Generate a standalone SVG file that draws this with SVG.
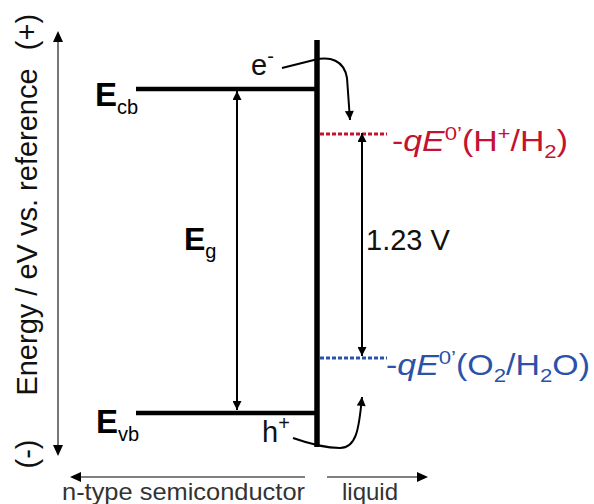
<svg xmlns="http://www.w3.org/2000/svg" width="594" height="504" viewBox="0 0 594 504">
<style>
text{font-family:"Liberation Sans",Arial,sans-serif;}
.lab{font-size:29px;fill:#111;}
.bold{font-weight:bold;fill:#000;}
.red{fill:#c4122f;}
.blue{fill:#2a52a8;}
.axis{stroke:#555;stroke-width:1.6;fill:none;}
.band{stroke:#000;stroke-width:4.5;fill:none;}
.arr{stroke:#000;stroke-width:2;fill:none;}
.gray{fill:#333;font-size:24px;}
</style>
<defs>
<marker id="ah" viewBox="0 0 10 10" refX="10" refY="5" markerWidth="10" markerHeight="9" markerUnits="userSpaceOnUse" orient="auto-start-reverse">
<path d="M0,0 L10,5 L0,10 z" fill="#000"/>
</marker>
</defs>
<g id="axis-y">
<line class="axis" x1="58" y1="448" x2="58" y2="40"/>
<path d="M58,31 L53,42 L63,42 z" fill="#000"/>
<path d="M58,456 L53,445 L63,445 z" fill="#000"/>
<text class="lab" transform="translate(37,232) rotate(-90)" text-anchor="middle" font-size="28">Energy / eV vs. reference</text>
<text class="lab" transform="translate(37,32) rotate(-90)" text-anchor="middle" font-size="26">(+)</text>
<text class="lab" transform="translate(37,454) rotate(-90)" text-anchor="middle" font-size="26">(-)</text>
</g>
<g id="axis-x">
<line class="axis" x1="78" y1="477" x2="305" y2="477"/>
<path d="M70,477 L81,472 L81,482 z" fill="#000"/>
<line class="axis" x1="327" y1="477" x2="420" y2="477"/>
<path d="M428,477 L417,472 L417,482 z" fill="#000"/>
<text class="gray" x="62" y="500" textLength="243" lengthAdjust="spacingAndGlyphs">n-type semiconductor</text>
<text class="gray" x="342" y="500">liquid</text>
</g>
<g id="Ecb">
<line class="band" x1="136" y1="89" x2="318" y2="89"/>
<text class="bold" x="95" y="106" font-size="33">E<tspan font-size="20" font-weight="normal" dy="8">cb</tspan></text>
</g>
<g id="Evb">
<line class="band" x1="136" y1="413" x2="318" y2="413"/>
<text class="bold" x="96" y="433" font-size="33">E<tspan font-size="20" font-weight="normal" dy="8">vb</tspan></text>
</g>
<g id="interface">
<line stroke="#000" stroke-width="5.5" x1="317" y1="40" x2="317" y2="447"/>
</g>
<g id="H2level">
<line stroke="#c4122f" stroke-width="3" stroke-dasharray="4 2" x1="320" y1="134" x2="387" y2="134"/>
<text class="lab red" x="392" y="151" textLength="176" lengthAdjust="spacingAndGlyphs">-<tspan font-style="italic">qE</tspan><tspan dy="-11" font-size="19">0’</tspan><tspan dy="11">(H</tspan><tspan dy="-11" font-size="19">+</tspan><tspan dy="11">/H</tspan><tspan dy="7" font-size="19">2</tspan><tspan dy="-7">)</tspan></text>
</g>
<g id="O2level">
<line stroke="#2a52a8" stroke-width="3" stroke-dasharray="4 2" x1="320" y1="358" x2="387" y2="358"/>
<text class="lab blue" x="386" y="375" textLength="204" lengthAdjust="spacingAndGlyphs">-<tspan font-style="italic">qE</tspan><tspan dy="-11" font-size="19">0’</tspan><tspan dy="11">(O</tspan><tspan dy="7" font-size="19">2</tspan><tspan dy="-7">/H</tspan><tspan dy="7" font-size="19">2</tspan><tspan dy="-7">O)</tspan></text>
</g>
<g id="Eg">
<text class="bold" x="184" y="250" font-size="32">E<tspan font-size="20" font-weight="normal" dy="8">g</tspan></text>
</g>
<g id="V123">
<text class="lab" x="366" y="250" font-size="30">1.23 V</text>
</g>
<g id="electron">
<text class="lab" x="251" y="75" font-size="31">e<tspan dy="-12" font-size="20">-</tspan></text>
</g>
<g id="hole">
<text class="lab" x="262" y="442" font-size="31">h<tspan dy="-12" font-size="20">+</tspan></text>
</g>
<g id="connectors">
<line class="arr" x1="237" y1="91" x2="237" y2="410" marker-start="url(#ah)" marker-end="url(#ah)"/>
<line class="arr" x1="362" y1="133" x2="362" y2="356" marker-start="url(#ah)" marker-end="url(#ah)"/>
<path class="arr" d="M282,68 L314,60 C330,56 344,60 347,78 L350,120" marker-end="url(#ah)"/>
<path class="arr" d="M293,438 C310,444 325,448 340,448 C356,448 359,430 362,397" marker-end="url(#ah)"/>
</g>
</svg>
